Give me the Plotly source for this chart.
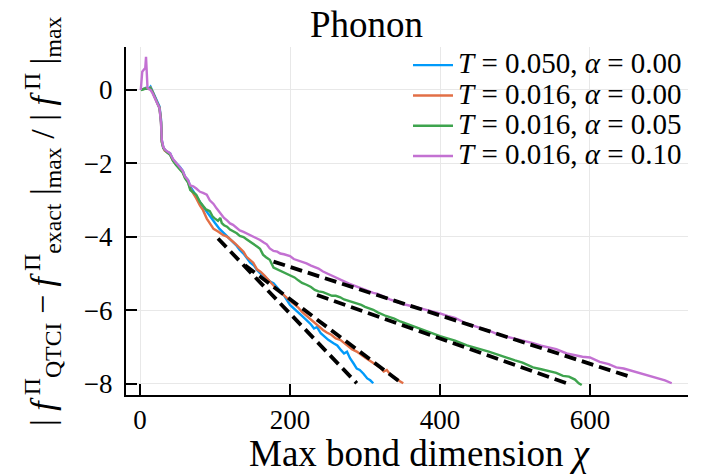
import plotly.graph_objects as go

# QTCI error vs. max bond dimension chi, phonon model (log10 scale on y)
blue = [(1, 0.00), (4, 0.03), (8, 0.06), (12, 0.04), (14, 0.09), (17, -0.05), (20, -0.20), (23, -0.33),
        (26, -0.45), (28, -0.80), (29, -1.36), (31, -1.55), (33, -1.63), (36, -1.68), (40, -1.72),
        (44, -1.90), (48, -1.98), (53, -2.09), (57, -2.20), (60, -2.36), (64, -2.45), (67, -2.63),
        (71, -2.75), (75, -2.90), (80, -3.05), (85, -3.20), (90, -3.35), (95, -3.50), (100, -3.62),
        (106, -3.78), (111, -3.88), (116, -3.96), (122, -4.10), (128, -4.22), (133, -4.35), (138, -4.45),
        (142, -4.56), (147, -4.70), (152, -4.78), (156, -4.90), (160, -4.98), (165, -5.05), (170, -5.15),
        (174, -5.22), (178, -5.26), (183, -5.38), (188, -5.50), (193, -5.62), (200, -5.85), (205, -5.95),
        (210, -6.05), (216, -6.15), (222, -6.26), (228, -6.38), (232, -6.49), (236, -6.45), (241, -6.62),
        (246, -6.72), (251, -6.80), (258, -6.89), (263, -6.95), (268, -7.08), (272, -7.17), (276, -7.12),
        (280, -7.30), (285, -7.45), (289, -7.58), (293, -7.62), (298, -7.72), (303, -7.85), (307, -7.90),
        (311, -7.98)]

orange = [(1, 0.00), (4, 0.03), (8, 0.05), (12, 0.03), (14, 0.06), (17, -0.06), (20, -0.22), (23, -0.35),
          (26, -0.48), (28, -0.85), (29, -1.40), (31, -1.57), (33, -1.65), (36, -1.70), (40, -1.75),
          (44, -1.92), (48, -2.02), (53, -2.12), (57, -2.24), (60, -2.38), (64, -2.50), (67, -2.68),
          (71, -2.80), (75, -2.95), (80, -3.15), (84, -3.27), (89, -3.50), (93, -3.62), (98, -3.78),
          (104, -3.85), (111, -3.95), (116, -3.99), (120, -4.05), (124, -4.13), (128, -4.20), (133, -4.30),
          (138, -4.40), (142, -4.54), (147, -4.62), (151, -4.70), (156, -4.88), (161, -4.95), (166, -5.05),
          (170, -5.15), (174, -5.22), (178, -5.32), (183, -5.42), (189, -5.52), (194, -5.62), (200, -5.74),
          (206, -5.84), (211, -5.92), (216, -6.04), (222, -6.15), (228, -6.26), (233, -6.33), (238, -6.42),
          (244, -6.53), (249, -6.60), (255, -6.66), (261, -6.76), (267, -6.80), (272, -6.88), (278, -6.98),
          (283, -7.06), (289, -7.12), (294, -7.20), (300, -7.28), (305, -7.35), (311, -7.44), (316, -7.50),
          (320, -7.55), (325, -7.66), (329, -7.62), (334, -7.75), (338, -7.82), (342, -7.85), (346, -7.92),
          (351, -7.98)]

green = [(1, 0.00), (4, 0.02), (8, 0.04), (12, 0.03), (14, 0.05), (17, -0.07), (20, -0.23), (23, -0.36),
         (26, -0.50), (28, -0.88), (29, -1.42), (31, -1.58), (33, -1.64), (36, -1.70), (40, -1.76),
         (44, -1.93), (48, -2.04), (53, -2.15), (57, -2.25), (60, -2.40), (64, -2.52), (67, -2.72),
         (71, -2.78), (75, -2.85), (80, -3.05), (84, -3.15), (88, -3.25), (93, -3.30), (97, -3.45),
         (100, -3.50), (104, -3.56), (107, -3.48), (109, -3.62), (112, -3.68), (116, -3.72), (120, -3.80),
         (124, -3.84), (129, -3.90), (133, -3.97), (138, -4.00), (142, -4.06), (147, -4.14), (151, -4.18),
         (156, -4.26), (160, -4.32), (164, -4.48), (168, -4.55), (173, -4.62), (178, -4.83), (183, -4.88),
         (189, -4.94), (194, -4.98), (200, -5.04), (206, -5.10), (211, -5.18), (216, -5.25), (222, -5.30),
         (228, -5.36), (233, -5.44), (238, -5.48), (244, -5.50), (250, -5.55), (256, -5.60), (261, -5.60),
         (267, -5.64), (272, -5.70), (278, -5.74), (283, -5.76), (289, -5.80), (295, -5.85), (300, -5.90),
         (306, -5.94), (311, -5.98), (317, -6.05), (322, -6.10), (328, -6.15), (333, -6.18), (339, -6.22),
         (347, -6.30), (355, -6.36), (363, -6.42), (371, -6.48), (380, -6.55), (391, -6.64), (400, -6.70),
         (410, -6.76), (420, -6.82), (436, -6.95), (445, -7.00), (455, -7.05), (465, -7.12), (480, -7.22),
         (490, -7.30), (500, -7.36), (510, -7.42), (524, -7.55), (535, -7.60), (545, -7.66), (555, -7.70),
         (564, -7.78), (572, -7.80), (580, -7.88), (585, -7.98), (589, -8.03)]

purple = [(1, 0.00), (3, 0.50), (5, 0.55), (7, 0.60), (8, 0.90), (9, 0.60), (10, 0.05), (12, 0.02),
          (14, 0.00), (17, -0.10), (20, -0.25), (23, -0.38), (26, -0.50), (28, -0.90), (29, -1.35),
          (31, -1.55), (33, -1.62), (36, -1.67), (40, -1.72), (44, -1.88), (48, -1.98), (53, -2.10),
          (57, -2.20), (60, -2.35), (64, -2.45), (67, -2.60), (71, -2.62), (75, -2.68), (80, -2.77),
          (84, -2.80), (89, -2.85), (93, -3.00), (98, -3.10), (102, -3.22), (107, -3.36), (112, -3.48),
          (116, -3.55), (120, -3.63), (124, -3.67), (129, -3.75), (133, -3.82), (138, -3.86), (142, -3.90),
          (147, -3.95), (151, -3.97), (156, -4.04), (160, -4.08), (165, -4.15), (169, -4.20), (173, -4.31),
          (178, -4.38), (183, -4.40), (187, -4.45), (192, -4.47), (196, -4.50), (200, -4.52), (205, -4.60),
          (210, -4.63), (216, -4.68), (222, -4.72), (228, -4.78), (233, -4.82), (238, -4.86), (244, -4.94),
          (250, -5.00), (256, -5.05), (261, -5.10), (267, -5.17), (272, -5.22), (278, -5.26), (283, -5.30),
          (289, -5.35), (295, -5.40), (300, -5.45), (306, -5.50), (311, -5.52), (317, -5.55), (322, -5.60),
          (328, -5.67), (333, -5.70), (339, -5.74), (345, -5.80), (350, -5.83), (356, -5.85), (362, -5.88),
          (367, -5.90), (373, -5.94), (380, -5.98), (391, -6.03), (400, -6.08), (410, -6.15), (420, -6.20),
          (436, -6.36), (445, -6.42), (455, -6.48), (465, -6.55), (480, -6.67), (490, -6.72), (500, -6.76),
          (510, -6.80), (524, -6.89), (535, -6.96), (545, -7.00), (555, -7.05), (569, -7.17), (580, -7.22),
          (590, -7.26), (600, -7.28), (613, -7.40), (625, -7.46), (635, -7.55), (645, -7.58), (658, -7.66),
          (670, -7.72), (680, -7.78), (690, -7.85), (700, -7.90), (709, -7.98)]

# exponential-decay fits (straight lines on log scale): (chi_start, chi_end), (y_start, y_end)
fit_chi = [(104, 289), (140, 349), (236, 569), (178, 653)]
fit_err = [(-4.04, -7.98), (-4.77, -7.98), (-5.58, -7.98), (-4.67, -7.80)]

series_labels = ["<i>T</i> = 0.050, <i>α</i> = 0.00",
                 "<i>T</i> = 0.016, <i>α</i> = 0.00",
                 "<i>T</i> = 0.016, <i>α</i> = 0.05",
                 "<i>T</i> = 0.016, <i>α</i> = 0.10"]
series_colors = ["#009AFA", "#E26F46", "#3EA44E", "#C371D2"]

x_ticks = [0, 200, 400, 600]
y_ticks = [0, -2, -4, -6, -8]

FONT = "Liberation Serif"
LEGEND_TEXT_PX = 29

fig = go.Figure()
for pts, name, color in zip([blue, orange, green, purple], series_labels, series_colors):
    fig.add_trace(go.Scatter(
        x=[p[0] for p in pts], y=[p[1] for p in pts],
        mode="lines",
        name=f'<span style="font-size:{LEGEND_TEXT_PX}px">{name}</span>',
        line=dict(color=color, width=2.4),
    ))

for cx, ey in zip(fit_chi, fit_err):
    fig.add_trace(go.Scatter(
        x=list(cx), y=list(ey), mode="lines", showlegend=False,
        line=dict(color="black", width=3.8, dash="12px,6px"),
    ))

L, R, T, B = 126, 16, 47, 81
W, H = 704, 476
pw, ph = W - L - R, H - T - B


def px_x(px):
    return (px - L) / pw


def px_y(py):
    return (H - B - py) / ph


fig.update_layout(
    width=W, height=H, autosize=False,
    margin=dict(l=L, r=R, t=T, b=B, pad=0, autoexpand=False),
    paper_bgcolor="white", plot_bgcolor="white",
    font=dict(family=FONT, color="black", size=26),
    showlegend=True,
    legend=dict(
        x=px_x(408), y=px_y(45), xanchor="left", yanchor="top",
        bgcolor="rgba(0,0,0,0)", borderwidth=0,
        font=dict(family=FONT, size=21, color="black"),
        itemwidth=40, tracegroupgap=0,
    ),
    xaxis=dict(
        range=[-18.7, 730.7], tickvals=x_ticks, ticktext=[str(v) for v in x_ticks],
        showline=True, linecolor="black", linewidth=2, mirror=False,
        ticks="inside", ticklen=11, tickwidth=2, tickcolor="black",
        showgrid=True, gridcolor="#e8e8e8", gridwidth=1, zeroline=False,
        tickfont=dict(family=FONT, size=27), ticklabelstandoff=0,
    ),
    yaxis=dict(
        range=[-8.30, 1.17], tickvals=y_ticks,
        ticktext=[str(v).replace("-", "\u2212") for v in y_ticks],
        showline=True, linecolor="black", linewidth=2, mirror=False,
        ticks="inside", ticklen=11, tickwidth=2, tickcolor="black",
        showgrid=True, gridcolor="#e8e8e8", gridwidth=1, zeroline=False,
        tickfont=dict(family=FONT, size=27), ticklabelstandoff=6,
    ),
    annotations=[
        dict(text="Phonon", x=px_x(366), y=px_y(25), xref="paper", yref="paper",
             xanchor="center", yanchor="middle", showarrow=False,
             font=dict(family=FONT, size=37, color="black")),
        dict(text="Max bond dimension <i>χ</i>", x=px_x(420), y=px_y(476), xref="paper", yref="paper",
             xanchor="center", yanchor="bottom", showarrow=False,
             font=dict(family=FONT, size=37, color="black")),
        dict(text="| <i>f</i><sup> Π</sup><sub>QTCI</sub> − <i>f</i><sup> Π</sup><sub>exact</sub> |<sub>max</sub>"
                  " / | <i>f</i><sup> Π</sup> |<sub>max</sub>",
             x=px_x(42), y=px_y(222), xref="paper", yref="paper", textangle=-90,
             xanchor="center", yanchor="middle", showarrow=False,
             font=dict(family=FONT, size=34, color="black")),
    ],
)

fig.write_html("out.html")
